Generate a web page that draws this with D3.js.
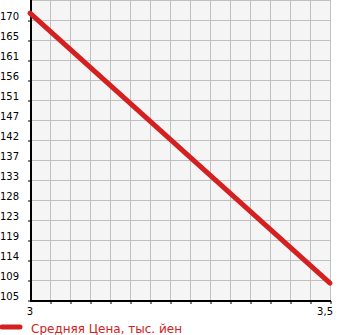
<!DOCTYPE html>
<html>
<head>
<meta charset="utf-8">
<script src="https://cdn.jsdelivr.net/npm/d3@7"></script>
<style>
  body { margin: 0; background: #fff; }
  svg { display: block; font-family: "DejaVu Sans", sans-serif; }
</style>
</head>
<body>
<div id="chart"></div>
<script>
// chart data
var xValues = [3, 3.5];
var priceValues = [171.6, 108.9];
var yTickLabels = ["105", "109", "114", "119", "123", "128", "133", "137", "142", "147", "151", "156", "161", "165", "170"];
var xTickLabels = ["3", "3,5"];
var seriesName = "Средняя Цена, тыс. йен";

var width = 345, height = 335;
var plotLeft = 30, plotRight = 330, plotTop = 0, plotBottom = 300;

var yStep = (170 - 105) / 14;
var yMin = 105, yMax = 105 + 15 * yStep;

var x = d3.scaleLinear().domain([3, 3.5]).range([plotLeft, plotRight]);
var y = d3.scaleLinear().domain([yMin, yMax]).range([plotBottom, plotTop]);

var svg = d3.select("#chart").append("svg")
  .attr("width", width)
  .attr("height", height);

// plot background
svg.append("rect")
  .attr("x", plotLeft).attr("y", plotTop)
  .attr("width", plotRight - plotLeft).attr("height", plotBottom - plotTop)
  .attr("fill", "#f5f5f5");

// grid
var xGrid = d3.range(16).map(function(i) { return 3 + i * 0.5 / 15; });
var yGrid = d3.range(16).map(function(i) { return yMin + i * yStep; });

svg.append("g").selectAll("line")
  .data(xGrid)
  .enter().append("line")
  .attr("x1", function(d) { return Math.round(x(d)) + 0.5; })
  .attr("x2", function(d) { return Math.round(x(d)) + 0.5; })
  .attr("y1", plotTop).attr("y2", plotBottom)
  .attr("stroke", "#c0c0c0");

svg.append("g").selectAll("line")
  .data(yGrid)
  .enter().append("line")
  .attr("x1", plotLeft).attr("x2", plotRight)
  .attr("y1", function(d) { return Math.round(y(d)) + 0.5; })
  .attr("y2", function(d) { return Math.round(y(d)) + 0.5; })
  .attr("stroke", "#c0c0c0");

// left axis
var yAxis = d3.axisLeft(y)
  .tickValues(yGrid.slice(0, 15))
  .tickSize(3)
  .tickPadding(0)
  .tickFormat(function(d, i) { return yTickLabels[i]; });

var gy = svg.append("g")
  .attr("transform", "translate(" + (plotLeft + 1) + ",0.5)")
  .call(yAxis);
gy.select(".domain").remove();
gy.selectAll(".tick line").attr("stroke", "#000");
gy.selectAll(".tick text")
  .attr("x", -12)
  .attr("dy", "-1px")
  .attr("font-size", 10)
  .attr("font-family", "DejaVu Sans")
  .attr("fill", "#000");

svg.append("line")
  .attr("x1", plotLeft + 1).attr("x2", plotLeft + 1)
  .attr("y1", plotTop).attr("y2", plotBottom + 2)
  .attr("stroke", "#000").attr("stroke-width", 2);

// bottom axis
var xAxis = d3.axisBottom(x)
  .tickValues(xGrid.slice(1))
  .tickSize(3)
  .tickFormat("");
var gx = svg.append("g")
  .attr("transform", "translate(0.5," + (plotBottom + 1) + ")")
  .call(xAxis);
gx.select(".domain").remove();
gx.selectAll(".tick line").attr("stroke", "#000");

svg.append("line")
  .attr("x1", plotLeft).attr("x2", plotRight + 1)
  .attr("y1", plotBottom + 1).attr("y2", plotBottom + 1)
  .attr("stroke", "#000").attr("stroke-width", 2);

svg.append("g").selectAll("text")
  .data(xValues)
  .enter().append("text")
  .attr("x", function(d, i) { return i === 0 ? x(d) : x(d) + 3; })
  .attr("y", 315)
  .attr("text-anchor", function(d, i) { return i === 0 ? "middle" : "end"; })
  .attr("font-size", 10)
  .attr("fill", "#000")
  .text(function(d, i) { return xTickLabels[i]; });

// price line
var line = d3.line()
  .x(function(d, i) { return x(xValues[i]); })
  .y(function(d) { return y(d); });

svg.append("path")
  .datum(priceValues)
  .attr("d", line)
  .attr("fill", "none")
  .attr("stroke", "#d42020")
  .attr("stroke-width", 5)
  .attr("stroke-linecap", "round");

// legend
svg.append("line")
  .attr("x1", 2).attr("x2", 20)
  .attr("y1", 327).attr("y2", 327)
  .attr("stroke", "#d42020")
  .attr("stroke-width", 5)
  .attr("stroke-linecap", "round");

svg.append("text")
  .attr("x", 31)
  .attr("y", 333)
  .attr("font-size", 12)
  .attr("fill", "#d42020")
  .text(seriesName);
</script>
</body>
</html>
